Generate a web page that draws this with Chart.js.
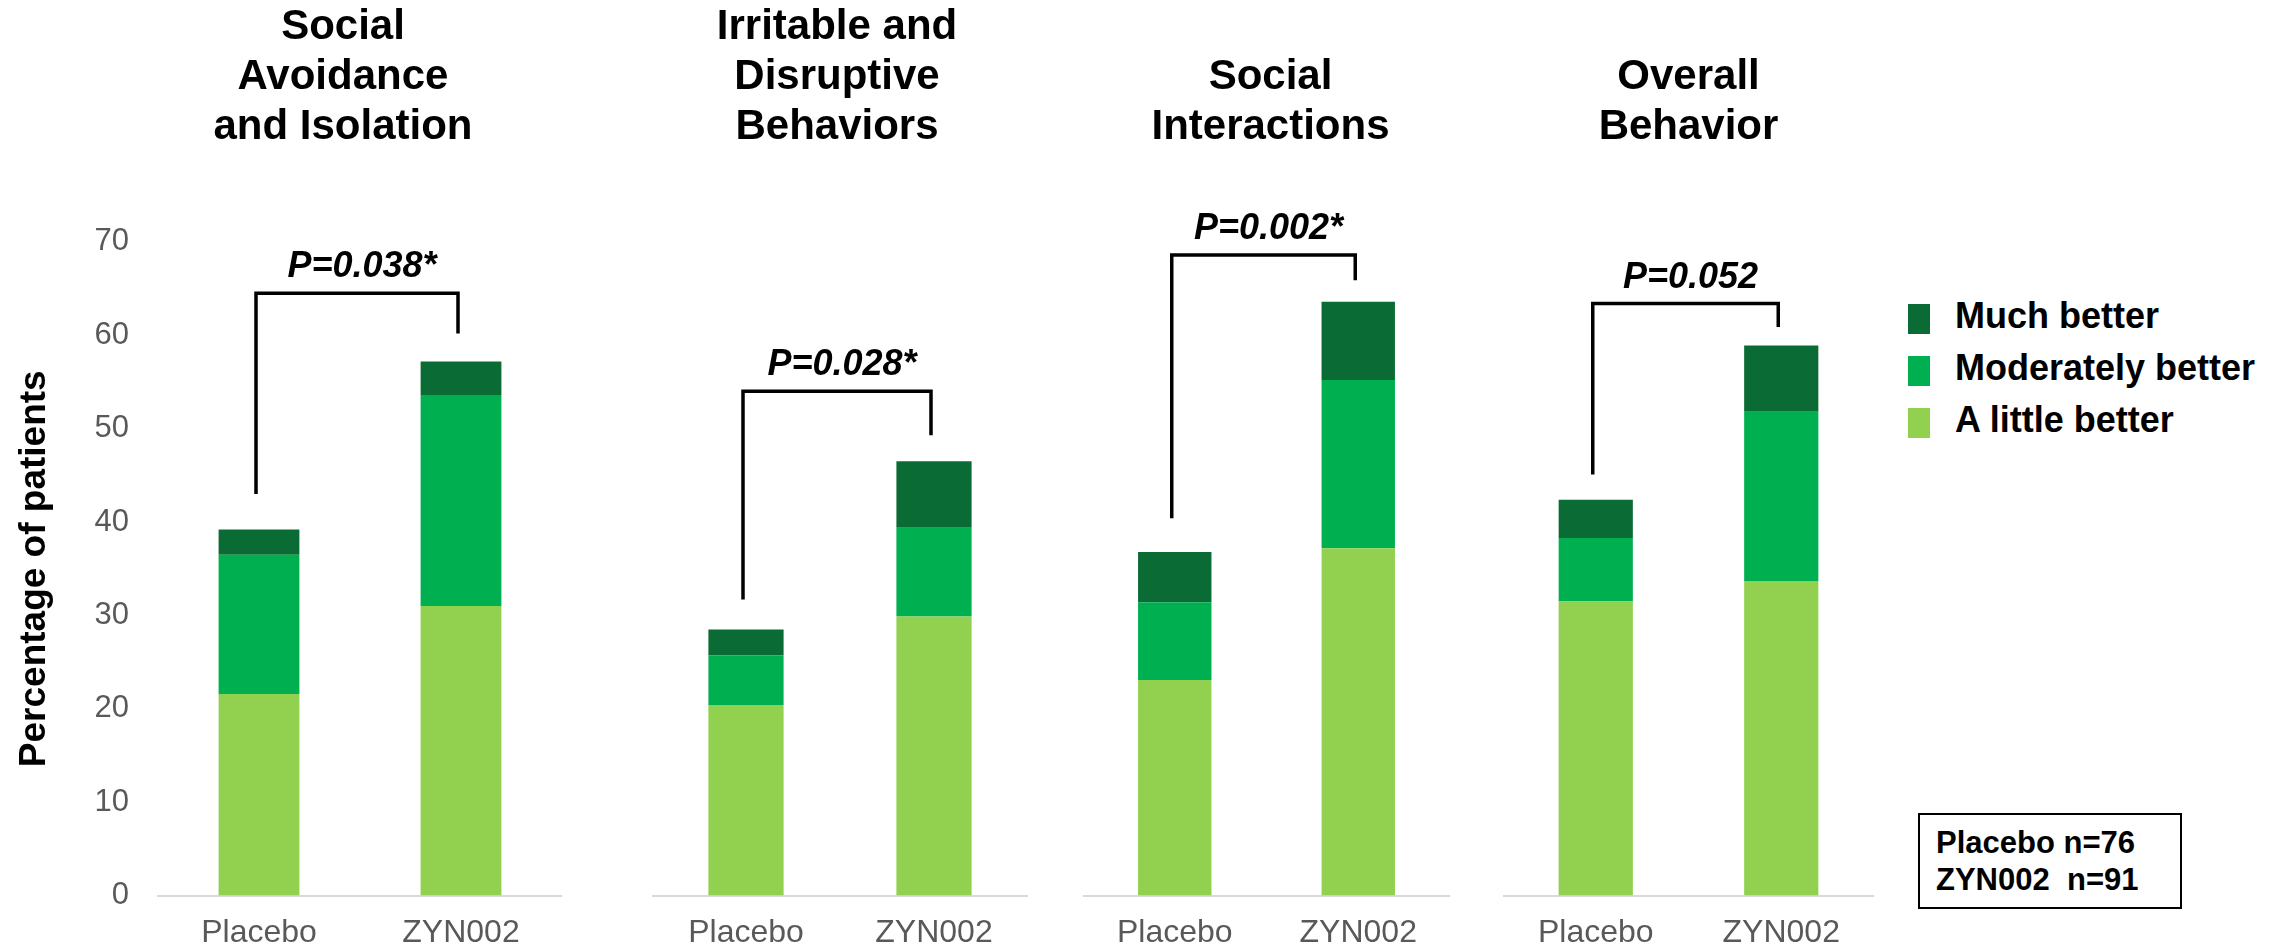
<!DOCTYPE html>
<html>
<head>
<meta charset="utf-8">
<title>ZYN002 improvement by subscale</title>
<script src="https://cdn.jsdelivr.net/npm/chart.js@4.4.1/dist/chart.umd.min.js"></script>
<style>
  body { margin: 0; background: #fff; }
  #wrap { position: relative; width: 2293px; height: 947px; overflow: hidden;
          font-family: 'Liberation Sans', Arial, sans-serif; }
  #wrap canvas { position: absolute; top: 0; }
  #legend { position: absolute; left: 1908px; top: 293px; }
  .legend-row { display: flex; align-items: center; height: 52px;
                font-size: 36px; font-weight: bold; color: #000; }
  .legend-row span { position: relative; top: -3px; }
  .legend-box { width: 22px; height: 30px; margin-right: 25px; }
  #nbox { position: absolute; left: 1918px; top: 813px; width: 244px; height: 83px;
          border: 2px solid #000; padding: 9px 0 0 16px;
          font-size: 31px; font-weight: bold; line-height: 37px; white-space: pre; }
</style>
</head>
<body>
<div id="wrap">
  <div id="legend"></div>
  <div id="nbox"></div>
</div>
<script>
const groups = ['Placebo', 'ZYN002'];
const panelTitles = [
  ['Social', 'Avoidance', 'and Isolation'],
  ['Irritable and', 'Disruptive', 'Behaviors'],
  ['Social', 'Interactions'],
  ['Overall', 'Behavior']
];
const seriesNames = ['A little better', 'Moderately better', 'Much better'];
const seriesColors = ['#92d050', '#00b050', '#0b6b34'];

// % of patients, [Placebo, ZYN002] for each panel
const littleBetter = [[21.6, 31.0], [20.4, 29.9], [23.1, 37.2], [31.5, 33.7]];
const moderatelyBetter = [[14.9, 22.6], [5.3, 9.5], [8.3, 18.0], [6.8, 18.1]];
const muchBetter = [[2.7, 3.6], [2.8, 7.1], [5.4, 8.4], [4.1, 7.1]];

const pValues = ['P=0.038*', 'P=0.028*', 'P=0.002*', 'P=0.052'];
const yTicks = [0, 10, 20, 30, 40, 50, 60, 70];
const sampleSizes = ['Placebo n=76', 'ZYN002  n=91'];

// bracket heights in % units: [placebo leg, top bar, ZYN002 leg]
const bracketLevels = [[43.0, 64.5, 60.2], [31.7, 54.0, 49.3], [40.4, 68.6, 65.9], [45.1, 63.4, 60.9]];

// where each panel sits on the page
const panelBoxes = [
  { left: 0, width: 562, titleShift: -17 },
  { left: 652, width: 376, titleShift: -3 },
  { left: 1083, width: 367, titleShift: 4 },
  { left: 1503, width: 371, titleShift: 0 }
];

Chart.defaults.font.family = "'Liberation Sans', Arial, sans-serif";

const bracketPlugin = {
  id: 'bracket',
  afterLayout(chart, args, opts) {
    // nudge the panel title so it sits where the slide had it
    if (chart.titleBlock && opts.titleShift) {
      chart.titleBlock.left += opts.titleShift;
      chart.titleBlock.right += opts.titleShift;
    }
  },
  afterDatasetsDraw(chart, args, opts) {
    const ctx = chart.ctx;
    const x = chart.scales.x;
    const y = chart.scales.y;
    const xl = x.getPixelForValue(0) - 3;
    const xr = x.getPixelForValue(1) - 3;
    const yTop = y.getPixelForValue(opts.levels[1]);
    ctx.save();
    ctx.strokeStyle = '#000';
    ctx.lineWidth = 3.5;
    ctx.beginPath();
    ctx.moveTo(xl, y.getPixelForValue(opts.levels[0]));
    ctx.lineTo(xl, yTop);
    ctx.lineTo(xr, yTop);
    ctx.lineTo(xr, y.getPixelForValue(opts.levels[2]));
    ctx.stroke();
    ctx.fillStyle = '#000';
    ctx.font = "italic bold 36px 'Liberation Sans', Arial, sans-serif";
    ctx.textAlign = 'center';
    ctx.textBaseline = 'alphabetic';
    ctx.fillText(opts.text, (xl + xr) / 2 + 5, yTop - 16);
    ctx.restore();
  }
};

const wrap = document.getElementById('wrap');
const AREA_TOP = 241.9;   // pixel of the 70 tick
const AXIS_H = 51.4;      // room under the baseline for the x labels

panelTitles.forEach((title, i) => {
  const box = panelBoxes[i];
  const canvas = document.createElement('canvas');
  canvas.width = box.width;
  canvas.height = 947;
  canvas.style.left = box.left + 'px';
  wrap.appendChild(canvas);

  const padTop = 2 + (3 - title.length) * 50;

  const yScale = {
    stacked: true,
    display: i === 0,
    min: yTicks[0],
    max: yTicks[yTicks.length - 1],
    ticks: { stepSize: yTicks[1] - yTicks[0], color: '#595959', font: { size: 31 }, padding: 29 },
    grid: { display: false, drawTicks: false },
    border: { display: false },
    title: {
      display: true,
      text: 'Percentage of patients',
      color: '#000',
      font: { size: 37, weight: 'bold', lineHeight: 1.2 },
      padding: { top: 12.8, bottom: 0 }
    }
  };
  if (i === 0) {
    yScale.afterFit = (s) => { s.width = 158; };
  }

  new Chart(canvas, {
    type: 'bar',
    data: {
      labels: groups,
      datasets: [
        { label: seriesNames[0], data: littleBetter[i], backgroundColor: seriesColors[0] },
        { label: seriesNames[1], data: moderatelyBetter[i], backgroundColor: seriesColors[1] },
        { label: seriesNames[2], data: muchBetter[i], backgroundColor: seriesColors[2] }
      ]
    },
    options: {
      responsive: false,
      animation: false,
      layout: { padding: 0 },
      datasets: { bar: { categoryPercentage: 1, barPercentage: 0.4, borderWidth: 0 } },
      plugins: {
        legend: { display: false },
        tooltip: { enabled: false },
        title: {
          display: true,
          text: title,
          fullSize: false,
          color: '#000',
          font: { size: 42, weight: 'bold', lineHeight: 50 / 42 },
          padding: { top: padTop, bottom: AREA_TOP - padTop - title.length * 50 }
        },
        bracket: { text: pValues[i], levels: bracketLevels[i], titleShift: box.titleShift }
      },
      scales: {
        x: {
          stacked: true,
          grid: { display: false, drawTicks: false },
          border: { display: true, color: '#d9d9d9', width: 2 },
          ticks: { color: '#595959', font: { size: 32 }, padding: 18 },
          afterFit: (s) => { s.height = AXIS_H; }
        },
        y: yScale
      }
    },
    plugins: [bracketPlugin]
  });
});

// shared legend, top entry is the top of the stack
const legendEl = document.getElementById('legend');
for (let k = seriesNames.length - 1; k >= 0; k--) {
  const row = document.createElement('div');
  row.className = 'legend-row';
  const sw = document.createElement('div');
  sw.className = 'legend-box';
  sw.style.background = seriesColors[k];
  const label = document.createElement('span');
  label.textContent = seriesNames[k];
  row.appendChild(sw);
  row.appendChild(label);
  legendEl.appendChild(row);
}

document.getElementById('nbox').textContent = sampleSizes.join('\n');
</script>
</body>
</html>
